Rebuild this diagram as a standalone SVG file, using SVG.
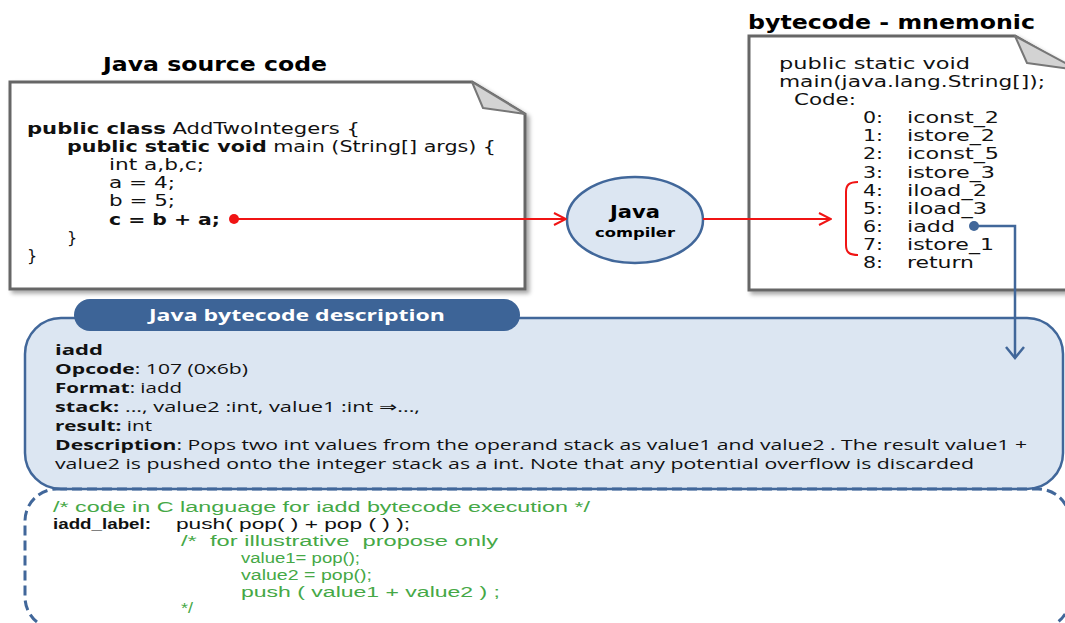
<svg xmlns="http://www.w3.org/2000/svg" width="1065" height="623" viewBox="0 0 1065 623">
  <style>
    text { white-space: pre; }
    .title { font-family: "DejaVu Sans", Verdana, sans-serif; font-weight: bold; font-size: 19px; fill: #000; }
    .code { font-family: "DejaVu Sans", Verdana, sans-serif; font-size: 16px; fill: #111; }
    .b { font-weight: bold; }
    .doc { fill: #fff; stroke: #666; stroke-width: 3; }
    .fold { fill: #d3d3d3; stroke: #777; stroke-width: 2; stroke-linejoin: round; }
    .desc { font-family: "Open Sans", "DejaVu Sans", sans-serif; font-size: 15px; fill: #111; }
    .green { font-family: "Liberation Sans", Arial, sans-serif; font-size: 15.5px; fill: #45a846; }
    .ccode { font-family: "Liberation Sans", Arial, sans-serif; font-size: 15.5px; fill: #111; }
    .red { stroke: #f01414; stroke-width: 2; fill: none; }
    .blue { stroke: #41679a; stroke-width: 2.5; fill: none; }
  </style>
  <defs>
    <filter id="shadow" x="-5%" y="-5%" width="115%" height="115%">
      <feDropShadow dx="3" dy="3" stdDeviation="2" flood-color="#000" flood-opacity="0.35"/>
    </filter>
    <marker id="redArrow" viewBox="0 0 14 14" refX="13" refY="7" markerWidth="14" markerHeight="14" markerUnits="userSpaceOnUse" orient="auto">
      <path d="M1,1 L13,7 L1,13" fill="none" stroke="#f01414" stroke-width="2"/>
    </marker>
    <marker id="blueArrow" viewBox="0 0 14 20" refX="12" refY="10" markerWidth="14" markerHeight="20" markerUnits="userSpaceOnUse" orient="auto">
      <path d="M1,1 L12,10 L1,19" fill="none" stroke="#41679a" stroke-width="2.5"/>
    </marker>
  </defs>

  <rect x="0" y="0" width="1065" height="623" fill="#fff"/>

  <!-- Java source document -->
  <g id="java-source">
    <text class="title" x="103" y="71" textLength="224" lengthAdjust="spacingAndGlyphs">Java source code</text>
    <path class="doc" filter="url(#shadow)" d="M10,82 H472 L525,114 V289 H10 Z"/>
    <path class="fold" d="M472,82 L483,108 L525,114 Z"/>
    <text class="code" x="27" y="134" textLength="333" lengthAdjust="spacingAndGlyphs"><tspan class="b">public class</tspan> AddTwoIntegers {</text>
    <text class="code" x="67" y="152" textLength="429" lengthAdjust="spacingAndGlyphs"><tspan class="b">public static void</tspan> main (String[] args) {</text>
    <text class="code" x="109" y="170" textLength="95" lengthAdjust="spacingAndGlyphs">int a,b,c;</text>
    <text class="code" x="109" y="188" textLength="66" lengthAdjust="spacingAndGlyphs">a = 4;</text>
    <text class="code" x="109" y="206" textLength="66" lengthAdjust="spacingAndGlyphs">b = 5;</text>
    <text class="code b" x="109" y="225" textLength="111" lengthAdjust="spacingAndGlyphs">c = b + a;</text>
    <text class="code" x="67" y="243">}</text>
    <text class="code" x="27" y="261">}</text>
  </g>

  <!-- Compiler -->
  <g id="java-compiler">
    <ellipse cx="635" cy="220" rx="68" ry="43" fill="#dce6f2" stroke="#41679a" stroke-width="2.5"/>
    <text x="635" y="218" text-anchor="middle" font-family="DejaVu Sans, Verdana, sans-serif" font-weight="bold" font-size="17" textLength="50" lengthAdjust="spacingAndGlyphs">Java</text>
    <text x="635" y="237" text-anchor="middle" font-family="DejaVu Sans, Verdana, sans-serif" font-weight="bold" font-size="13" textLength="80" lengthAdjust="spacingAndGlyphs">compiler</text>
  </g>

  <!-- Bytecode mnemonic document -->
  <g id="bytecode">
    <text class="title" x="748" y="29" textLength="287" lengthAdjust="spacingAndGlyphs">bytecode - mnemonic</text>
    <path class="doc" filter="url(#shadow)" d="M749,36 H1015 L1078,72 V290 H749 Z"/>
    <path class="fold" d="M1015,36 L1027,63 L1078,70 Z"/>
    <text class="code" x="779" y="69" textLength="191" lengthAdjust="spacingAndGlyphs">public static void</text>
    <text class="code" x="779" y="87" textLength="266" lengthAdjust="spacingAndGlyphs">main(java.lang.String[]);</text>
    <text class="code" x="794" y="105" textLength="62" lengthAdjust="spacingAndGlyphs">Code:</text>
    <g class="code">
      <text x="863" y="123" textLength="20" lengthAdjust="spacingAndGlyphs">0:</text><text x="907" y="123" textLength="92" lengthAdjust="spacingAndGlyphs">iconst_2</text>
      <text x="863" y="141" textLength="20" lengthAdjust="spacingAndGlyphs">1:</text><text x="907" y="141" textLength="88" lengthAdjust="spacingAndGlyphs">istore_2</text>
      <text x="863" y="159" textLength="20" lengthAdjust="spacingAndGlyphs">2:</text><text x="907" y="159" textLength="92" lengthAdjust="spacingAndGlyphs">iconst_5</text>
      <text x="863" y="178" textLength="20" lengthAdjust="spacingAndGlyphs">3:</text><text x="907" y="178" textLength="88" lengthAdjust="spacingAndGlyphs">istore_3</text>
      <text x="863" y="196" textLength="20" lengthAdjust="spacingAndGlyphs">4:</text><text x="907" y="196" textLength="80" lengthAdjust="spacingAndGlyphs">iload_2</text>
      <text x="863" y="214" textLength="20" lengthAdjust="spacingAndGlyphs">5:</text><text x="907" y="214" textLength="80" lengthAdjust="spacingAndGlyphs">iload_3</text>
      <text x="863" y="232" textLength="20" lengthAdjust="spacingAndGlyphs">6:</text><text x="907" y="232" textLength="48" lengthAdjust="spacingAndGlyphs">iadd</text>
      <text x="863" y="250" textLength="20" lengthAdjust="spacingAndGlyphs">7:</text><text x="907" y="250" textLength="87" lengthAdjust="spacingAndGlyphs">istore_1</text>
      <text x="863" y="268" textLength="20" lengthAdjust="spacingAndGlyphs">8:</text><text x="907" y="268" textLength="67" lengthAdjust="spacingAndGlyphs">return</text>
    </g>
    <path class="red" d="M858,182 C849,182 846,185 846,192 V245 C846,252 849,255 858,255"/>
  </g>

  <!-- Bytecode description panel -->
  <g id="description">
    <rect x="25" y="318" width="1038" height="171" rx="36" ry="36" fill="#dce6f2" stroke="#41679a" stroke-width="2.5"/>
    <rect x="74" y="299" width="446" height="32" rx="16" ry="16" fill="#3d6497"/>
    <text x="297" y="321" text-anchor="middle" font-family="Open Sans, DejaVu Sans, sans-serif" font-weight="bold" font-size="16" fill="#fff" textLength="296" lengthAdjust="spacingAndGlyphs">Java bytecode description</text>
    <text class="desc b" x="55" y="355" font-size="16" textLength="48" lengthAdjust="spacingAndGlyphs">iadd</text>
    <text class="desc" x="55" y="374" textLength="193" lengthAdjust="spacingAndGlyphs"><tspan class="b">Opcode</tspan>: 107 (0x6b)</text>
    <text class="desc" x="55" y="393" textLength="127" lengthAdjust="spacingAndGlyphs"><tspan class="b">Format</tspan>: iadd</text>
    <text class="desc" x="55" y="412" textLength="365" lengthAdjust="spacingAndGlyphs"><tspan class="b">stack:</tspan> ..., value2 :int, value1 :int ⇒...,</text>
    <text class="desc" x="55" y="431" textLength="97" lengthAdjust="spacingAndGlyphs"><tspan class="b">result:</tspan> int</text>
    <text class="desc" x="55" y="450" textLength="972" lengthAdjust="spacingAndGlyphs"><tspan class="b">Description</tspan>: Pops two int values from the operand stack as value1 and value2 . The result value1 +</text>
    <text class="desc" x="55" y="469" textLength="919" lengthAdjust="spacingAndGlyphs">value2 is pushed onto the integer stack as a int. Note that any potential overflow is discarded</text>
  </g>

  <!-- C implementation panel -->
  <g id="c-code">
    <rect x="25" y="489" width="1045" height="140" rx="32" ry="32" fill="none" stroke="#41679a" stroke-width="3" stroke-dasharray="10 5"/>
    <text class="green" x="53" y="512" textLength="537" lengthAdjust="spacingAndGlyphs">/* code in C language for iadd bytecode execution */</text>
    <text class="ccode b" x="53" y="529" textLength="98" lengthAdjust="spacingAndGlyphs">iadd_label:</text>
    <text class="ccode" x="176" y="529" textLength="234" lengthAdjust="spacingAndGlyphs">push( pop( ) + pop ( ) );</text>
    <text class="green" x="181" y="546" textLength="317" lengthAdjust="spacingAndGlyphs">/*  for illustrative  propose only</text>
    <text class="green" x="241" y="563" textLength="119" lengthAdjust="spacingAndGlyphs">value1= pop();</text>
    <text class="green" x="241" y="580" textLength="131" lengthAdjust="spacingAndGlyphs">value2 = pop();</text>
    <text class="green" x="241" y="597" textLength="259" lengthAdjust="spacingAndGlyphs">push ( value1 + value2 ) ;</text>
    <text class="green" x="181" y="613" textLength="12" lengthAdjust="spacingAndGlyphs">*/</text>
  </g>

  <!-- Connectors -->
  <g id="connectors">
    <circle cx="234" cy="219" r="5" fill="#f01414"/>
    <path class="red" d="M234,219 H566" marker-end="url(#redArrow)"/>
    <path class="red" d="M703,219 H831" marker-end="url(#redArrow)"/>
    <circle cx="974" cy="226" r="5" fill="#41679a"/>
    <path class="blue" d="M974,226 H1015 V358" marker-end="url(#blueArrow)"/>
  </g>
</svg>
